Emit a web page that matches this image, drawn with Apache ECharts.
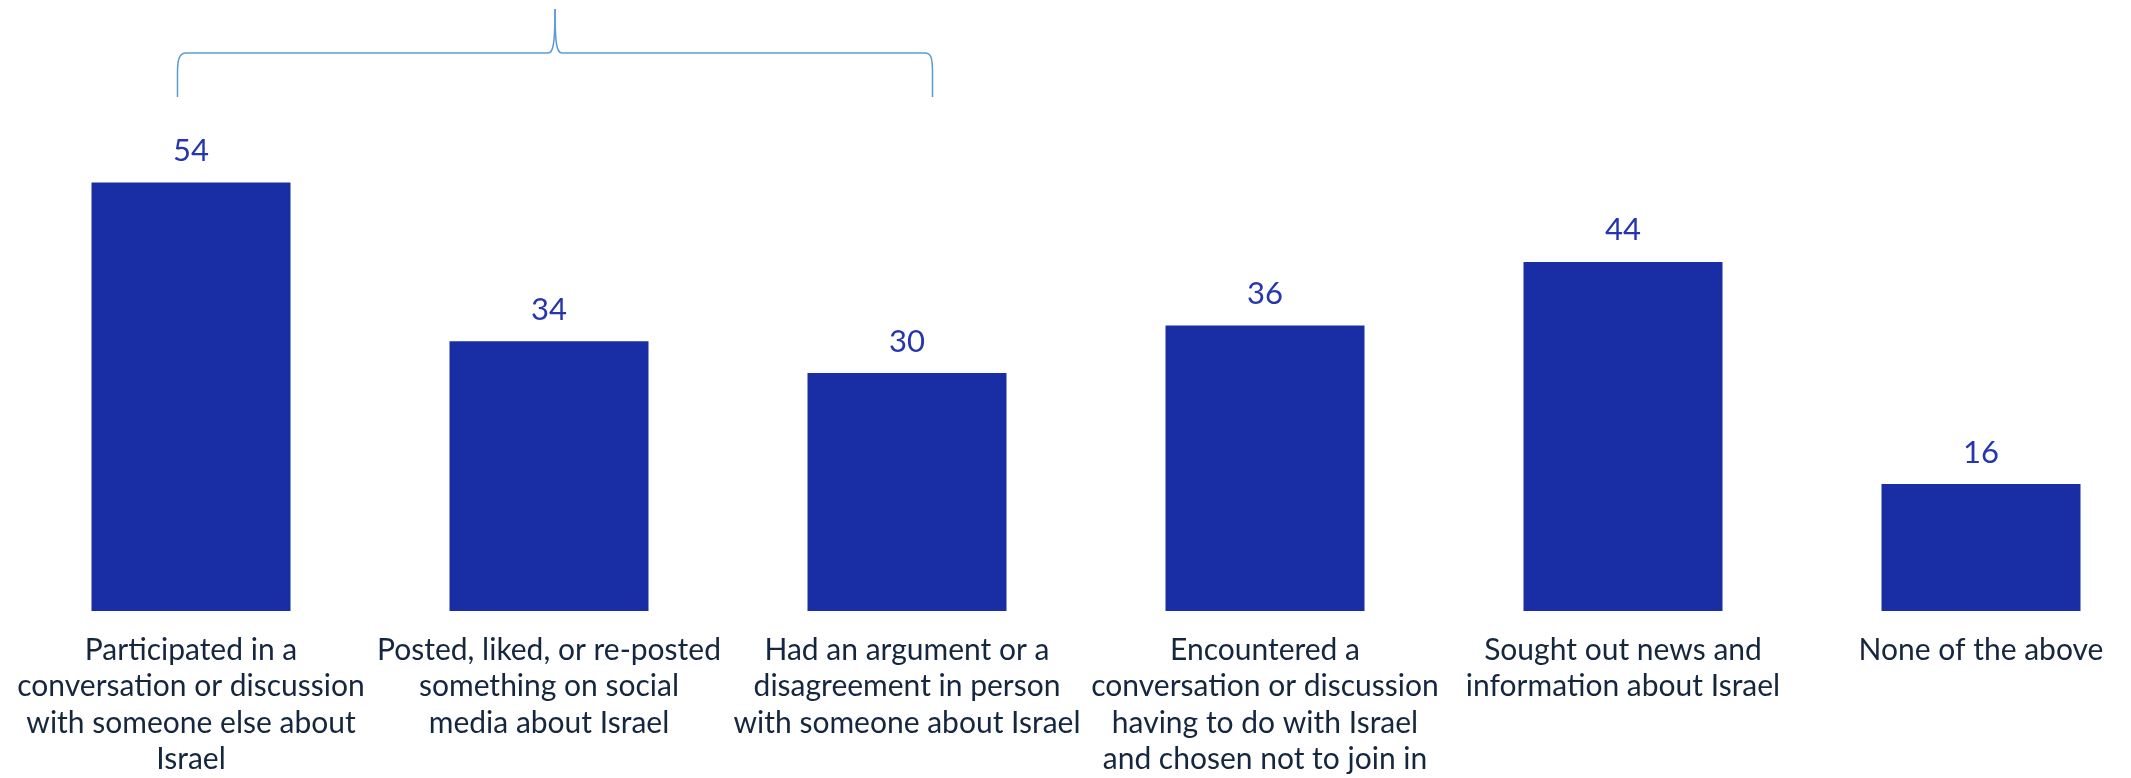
<!DOCTYPE html>
<html>
<head>
<meta charset="utf-8">
<script src="https://cdn.jsdelivr.net/npm/echarts@6/dist/echarts.min.js"></script>
<style>html,body{margin:0;padding:0;background:#fff;overflow:hidden}#c{width:2170px;height:778px}</style>
</head>
<body>
<div id="c"></div>
<script>
const categories = [
  "Participated in a\nconversation or discussion\nwith someone else about\nIsrael",
  "Posted, liked, or re-posted\nsomething on social\nmedia about Israel",
  "Had an argument or a\ndisagreement in person\nwith someone about Israel",
  "Encountered a\nconversation or discussion\nhaving to do with Israel\nand chosen not to join in",
  "Sought out news and\ninformation about Israel",
  "None of the above"
];
const values = [54, 34, 30, 36, 44, 16];

const braceStyle = { stroke: '#5b9bd5', lineWidth: 1.5, fill: null };
function ln(x1, y1, x2, y2) { return { type: 'line', shape: { x1, y1, x2, y2 }, style: braceStyle }; }
function bz(x1, y1, cpx1, cpy1, cpx2, cpy2, x2, y2) { return { type: 'bezierCurve', shape: { x1, y1, cpx1, cpy1, cpx2, cpy2, x2, y2 }, style: braceStyle }; }

const chart = echarts.init(document.getElementById('c'));
chart.setOption({
  animation: false,
  grid: { left: 12, width: 2148, top: 135, height: 483 },
  xAxis: {
    type: 'category', data: categories,
    axisLine: { show: false }, axisTick: { show: false },
    axisLabel: { interval: 0, margin: 21, color: '#15263f', fontSize: 30, lineHeight: 36.5, fontFamily: 'Lato' }
  },
  yAxis: { type: 'value', min: 0, max: 60, show: false, splitLine: { show: false } },
  series: [{
    type: 'bar', data: values, barWidth: 199,
    itemStyle: { color: '#192ea4' },
    label: { show: true, position: 'top', distance: 16, color: '#2536ae', fontSize: 31, fontFamily: 'Lato' }
  }],
  graphic: [
    ln(177.5, 97, 177.5, 72),
    bz(177.5, 72, 177.5, 58, 180, 53, 186, 53),
    ln(186, 53, 548, 53),
    bz(548, 53, 553, 53, 555, 45, 555, 9),
    bz(555, 9, 555, 45, 557, 53, 562, 53),
    ln(562, 53, 925, 53),
    bz(925, 53, 931, 53, 932.5, 58, 932.5, 72),
    ln(932.5, 72, 932.5, 97)
  ]
});
</script>
</body>
</html>
